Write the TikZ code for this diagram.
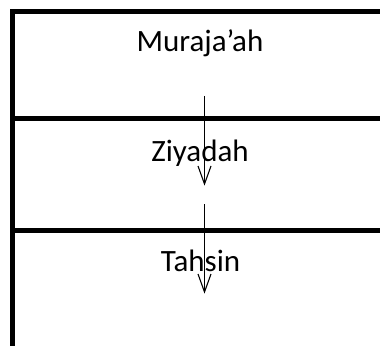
\documentclass[tikz,border=0pt]{standalone}
\usepackage{fontspec}
\setmainfont{Carlito}
\begin{document}
\begin{tikzpicture}[x=1pt,y=1pt,
  frame/.style={line width=5pt,line join=miter},
  flow/.style={line width=1.1pt},
  barb/.style={line width=1.1pt,line join=miter},
  lbl/.style={anchor=base,inner sep=0pt,font=\fontsize{31}{36}\selectfont}]
\useasboundingbox (0,0) rectangle (380,346);
% frame lines
\draw[frame] (380,334) -- (12.5,334) -- (12.5,0);
\draw[frame] (12.5,227) -- (380,227);
\draw[frame] (12.5,116) -- (380,116);
% labels
\node[lbl] (m) at (200,294) {Muraja’ah};
\node[lbl] (z) at (200,185) {Ziyadah};
\node[lbl] (t) at (200.5,75) {Tahsin};
% arrow endpoints
\coordinate (a1s) at (204.5,250);
\coordinate (a1e) at (204.5,162);
\coordinate (a2s) at (204.5,142);
\coordinate (a2e) at (204.5,54);
\draw[flow] (a1s) -- (a1e);
\draw[flow] (a2s) -- (a2e);
\draw[barb] ([shift={(-6.5,18)}]a1e) -- (a1e) -- ([shift={(6.5,18)}]a1e);
\draw[barb] ([shift={(-6.5,18)}]a2e) -- (a2e) -- ([shift={(6.5,18)}]a2e);
\end{tikzpicture}
\end{document}
